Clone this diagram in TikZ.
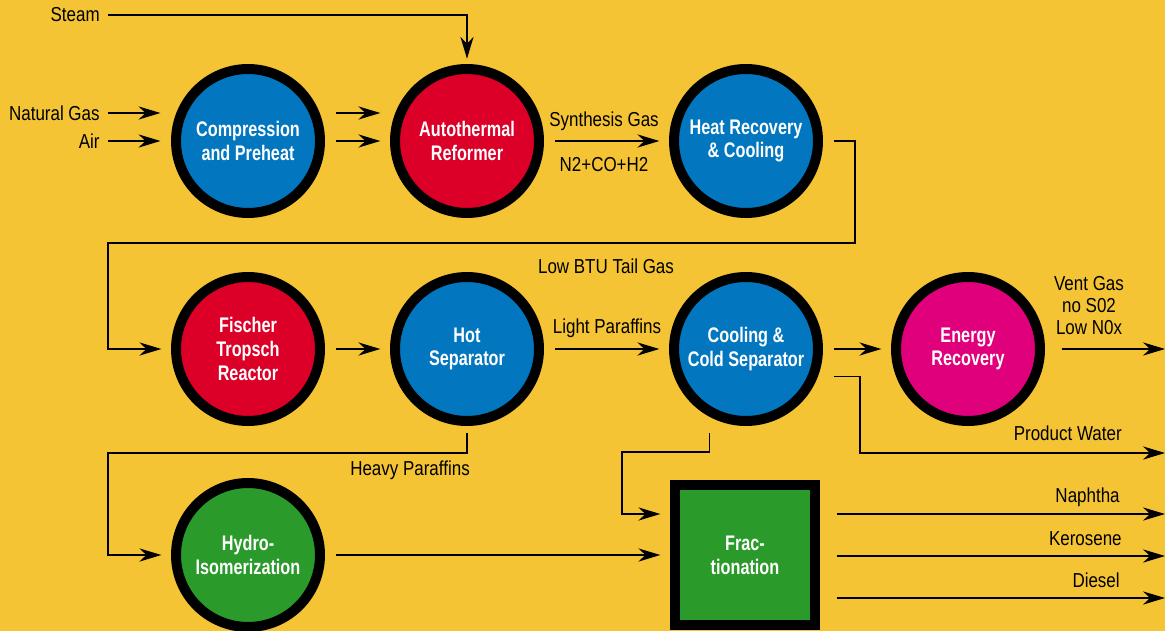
\documentclass[tikz,border=0pt]{standalone}
\usepackage{fontspec}
\setmainfont{Liberation Sans}[FakeStretch=0.84]
\newfontfamily\unitfont{Liberation Sans}[FakeStretch=0.77]
\usetikzlibrary{arrows.meta}
\definecolor{bgyellow}{RGB}{245,196,52}
\definecolor{unitblue}{RGB}{2,119,191}
\definecolor{unitred}{RGB}{220,0,40}
\definecolor{unitpink}{RGB}{224,0,124}
\definecolor{unitgreen}{RGB}{42,154,42}
\begin{document}
\begin{tikzpicture}[x=0.02cm, y=-0.02cm, >={Stealth[length=12.5pt,width=7.5pt,inset=4pt]},
  unit/.style={circle, draw=black, line width=0.2cm, minimum size=2.88cm, inner sep=0pt, align=center, text=white, font=\unitfont\fontsize{12}{13.5}\selectfont\bfseries},
  lbl/.style={inner sep=0pt, font=\fontsize{11.5}{12.5}\selectfont},
  flow/.style={->, line width=0.7pt, shorten <=6.5pt, shorten >=5.5pt}]
\path[use as bounding box, fill=bgyellow] (0,0) rectangle (1165,631);

\node[unit, fill=unitblue] (comp) at (248,141) {Compression\\and Preheat};
\node[unit, fill=unitred] (ref) at (467,141) {Autothermal\\Reformer};
\node[unit, fill=unitblue] (heat) at (746,141) {Heat Recovery\\\& Cooling};
\node[unit, fill=unitred] (fis) at (248,349) {Fischer\\Tropsch\\Reactor};
\node[unit, fill=unitblue] (hot) at (467,349) {Hot\\Separator};
\node[unit, fill=unitblue] (cold) at (746,349) {Cooling \&\\Cold Separator};
\node[unit, fill=unitpink] (en) at (968,349) {Energy\\Recovery};
\node[unit, fill=unitgreen] (hyd) at (248,555) {Hydro-\\Isomerization};
\node[unit, fill=unitgreen, rectangle, minimum size=2.8cm] (frac) at (745,555) {Frac-\\tionation};

\node[lbl, anchor=east] (st) at (100,15) {Steam};
\node[lbl, anchor=east] (ng) at (100,113) {Natural Gas};
\node[lbl, anchor=east] (air) at (100,141) {Air};
\node[lbl] (syn) at (604,121) {Synthesis Gas};
\node[lbl] (mix) at (604,165) {N2+CO+H2};
\node[lbl] (tail) at (606,266) {Low BTU Tail Gas};
\node[lbl] (light) at (607,328) {Light Paraffins};
\node[lbl, align=center] (vent) at (1089,306) {Vent Gas\\no S02\\Low N0x};
\node[lbl, anchor=east] (water) at (1122,433) {Product Water};
\node[lbl] (heavy) at (410,470) {Heavy Paraffins};
\node[lbl, anchor=east] (nap) at (1120,497) {Naphtha};
\node[lbl, anchor=east] (ker) at (1122,539) {Kerosene};
\node[lbl, anchor=east] (die) at (1120,580) {Diesel};

\coordinate (tailR) at (855,243);
\coordinate (tailL) at (108,243);
\coordinate (hvL) at (108,453);
\coordinate (cfL) at (622,452);
\coordinate (pwM) at (860,453);
\coordinate (pwE) at (1165,453);
\coordinate (ventE) at (1165,349);
\coordinate (napE) at (1165,514);
\coordinate (kerE) at (1165,556);
\coordinate (dieE) at (1165,598);

\draw[flow, shorten <=4.5pt, shorten >=3pt] (st.east) -| (ref.north);
\draw[flow, shorten <=4.5pt, shorten >=6pt] (ng.east) -- (ng.east -| comp.west);
\draw[flow, shorten <=4.5pt, shorten >=6pt] (air.east) -- (air.east -| comp.west);
\draw[flow] (comp.east |- ng.east) -- (ref.west |- ng.east);
\draw[flow] (comp) -- (ref);
\draw[flow] (ref) -- (heat);
\draw[flow] (heat.east) -| (tailR) -- (tailL) |- (fis.west);
\draw[flow] (fis) -- (hot);
\draw[flow] (hot) -- (cold);
\draw[flow] (cold) -- (en);
\draw[flow, shorten <=9.5pt, shorten >=0pt] (en.east) -- (ventE);
\draw[flow, shorten <=9pt, shorten >=0pt] (cold.-21) -| (pwM) -- (pwE);
\draw[flow, shorten <=9pt] (cold.-118) |- (cfL) |- (frac.west |- napE);
\draw[flow, shorten <=4pt] (hot.south) |- (hvL) |- (hyd.west);
\draw[flow] (hyd) -- (frac);
\draw[flow, shorten <=9.5pt, shorten >=0pt] (frac.east |- napE) -- (napE);
\draw[flow, shorten <=9.5pt, shorten >=0pt] (frac.east |- kerE) -- (kerE);
\draw[flow, shorten <=9.5pt, shorten >=0pt] (frac.east |- dieE) -- (dieE);
\end{tikzpicture}
\end{document}
